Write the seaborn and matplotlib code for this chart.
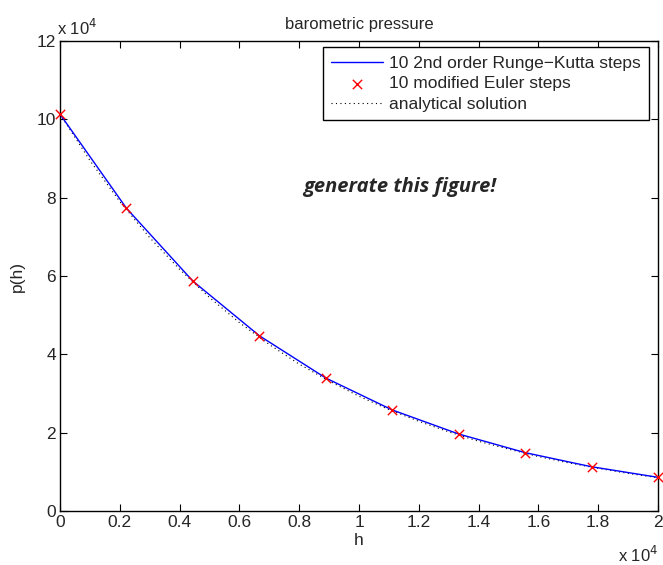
import numpy as np
import pandas as pd
import matplotlib
matplotlib.use("Agg")
import matplotlib.pyplot as plt
import seaborn as sns
from matplotlib.ticker import FuncFormatter, MultipleLocator

# data
h_steps = [0, 2222, 4444, 6667, 8889, 11111, 13333, 15556, 17778, 20000]
p_rk2 = [101325, 77300, 58700, 44750, 33950, 25800, 19660, 14900, 11300, 8600]
p_euler = [101325, 77300, 58700, 44750, 33950, 25800, 19660, 14900, 11300, 8600]
h_exact = [0, 1000, 2000, 3000, 4000, 5000, 6000, 7000, 8000, 9000, 10000,
           11000, 12000, 13000, 14000, 15000, 16000, 17000, 18000, 19000, 20000]
p_exact = [101325, 89500, 79000, 69800, 61700, 54500, 48100, 42500, 37500, 33200,
           29300, 25900, 22900, 20200, 17800, 15800, 13900, 12300, 10900, 9600, 8500]

labels = ["10 2nd order Runge\u2212Kutta steps", "10 modified Euler steps", "analytical solution"]

sns.set_style("ticks")
plt.rcParams["font.family"] = ["Liberation Sans", "DejaVu Sans"]
plt.rcParams["xtick.direction"] = "in"
plt.rcParams["ytick.direction"] = "in"
plt.rcParams["axes.unicode_minus"] = True

fig = plt.figure(figsize=(6.63, 5.65), dpi=100)
ax = fig.add_axes([60 / 663, 1 - 511 / 565, 598 / 663, 470 / 565])

df_rk = pd.DataFrame({"h": h_steps, "p": p_rk2})
df_eu = pd.DataFrame({"h": h_steps, "p": p_euler})
df_ex = pd.DataFrame({"h": h_exact, "p": p_exact})

sns.lineplot(data=df_rk, x="h", y="p", ax=ax, color="#0000ff", linewidth=1.0,
             label=labels[0], sort=False, zorder=3)
sns.scatterplot(data=df_eu, x="h", y="p", ax=ax, marker="x", color="#ff0000", s=45,
                linewidth=1.0, label=labels[1], zorder=4, clip_on=False)
sns.lineplot(data=df_ex, x="h", y="p", ax=ax, color="black", linewidth=0.8,
             linestyle=(0, (1, 3)), label=labels[2], sort=False, zorder=2)

ax.set_xlim(0, 20000)
ax.set_ylim(0, 120000)
ax.xaxis.set_major_locator(MultipleLocator(2000))
ax.yaxis.set_major_locator(MultipleLocator(20000))
ax.xaxis.set_major_formatter(FuncFormatter(lambda v, p: f"{v / 1e4:g}"))
ax.yaxis.set_major_formatter(FuncFormatter(lambda v, p: f"{v / 1e4:g}"))
ax.tick_params(axis="both", which="both", top=True, right=True, length=5,
               width=0.8, labelsize=12.5, color="black", pad=3)
for s in ax.spines.values():
    s.set_visible(True)
    s.set_linewidth(1.0)
    s.set_color("black")

ax.set_xlabel("h", fontsize=12.5, labelpad=2)
ax.set_ylabel("p(h)", fontsize=12.5, labelpad=8)
ax.set_title("barometric pressure", fontsize=12, pad=9)

ax.text(-0.005, 1.006, "x 10$^{4}$", transform=ax.transAxes, fontsize=12,
        ha="left", va="bottom")
ax.text(1.0, -0.115, "x 10$^{4}$", transform=ax.transAxes, fontsize=12,
        ha="right", va="bottom")

ax.text(0.568, 0.69, "generate this figure!", transform=ax.transAxes,
        fontsize=14.5, fontweight="bold", fontstyle="italic",
        family=["Open Sans", "DejaVu Sans"], ha="center", va="center")

leg = ax.legend(loc="upper right", bbox_to_anchor=(0.985, 0.987), fontsize=12.5,
                frameon=True, fancybox=False, edgecolor="black", framealpha=1,
                borderpad=0.5, labelspacing=0.3, handlelength=3.0,
                handletextpad=0.3, borderaxespad=0.0)
leg.get_frame().set_linewidth(1.0)

fig.savefig("out.png", dpi=100)
